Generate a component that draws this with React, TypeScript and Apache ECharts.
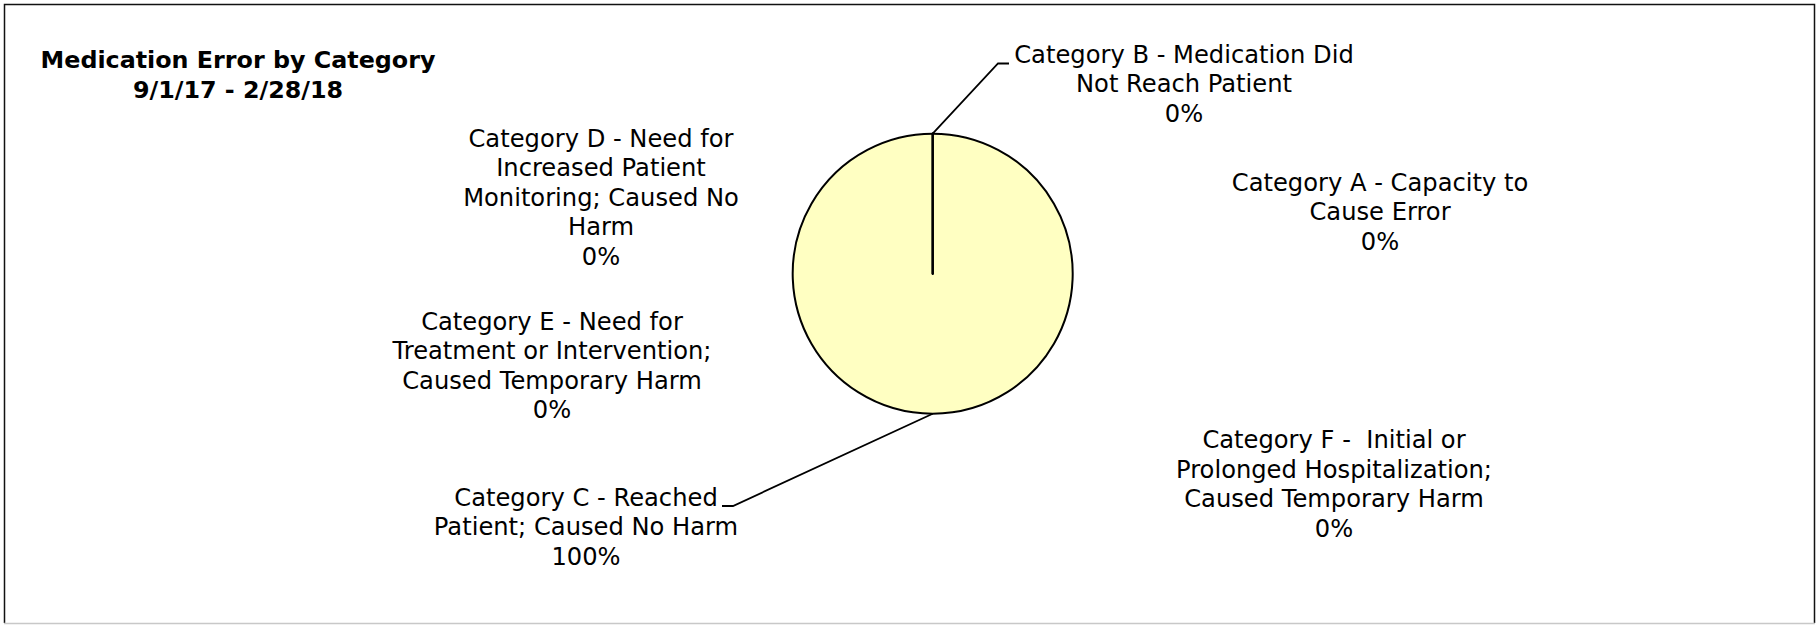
import React, { useEffect, useRef } from 'react';
import * as echarts from 'echarts';

// ---- data ----
const categories = [
  'Category A - Capacity to Cause Error',
  'Category B - Medication Did Not Reach Patient',
  'Category C - Reached Patient; Caused No Harm',
  'Category D - Need for Increased Patient Monitoring; Caused No Harm',
  'Category E - Need for Treatment or Intervention; Caused Temporary Harm',
  'Category F -  Initial or Prolonged Hospitalization; Caused Temporary Harm',
];
const labelTexts = [
  'Category A - Capacity to\nCause Error',
  'Category B - Medication Did\nNot Reach Patient',
  'Category C - Reached\nPatient; Caused No Harm',
  'Category D - Need for\nIncreased Patient\nMonitoring; Caused No\nHarm',
  'Category E - Need for\nTreatment or Intervention;\nCaused Temporary Harm',
  'Category F -  Initial or\nProlonged Hospitalization;\nCaused Temporary Harm',
];
const values = [0, 0, 100, 0, 0, 0];
const titleLines = ['Medication Error by Category', '9/1/17 - 2/28/18'];

// ---- layout ----
const W = 1818;
const H = 625;
const CX = 932.7;
const CY = 273.7;
const R = 140;
const FONT = '"DejaVu Sans", Verdana, sans-serif';
const labelPos: [number, number][] = [
  [1380, 212],
  [1184, 84],
  [586, 527],
  [601, 197.5],
  [552, 366],
  [1334, 484.5],
];

export default function App() {
  const ref = useRef<HTMLDivElement>(null);
  useEffect(() => {
    if (!ref.current) return;
    const chart = echarts.init(ref.current, undefined, { renderer: 'svg' });
    const option: any = {
      animation: false,
      backgroundColor: '#ffffff',
      graphic: [
        {
          type: 'polyline',
          silent: true,
          shape: { points: [[4.5, 623], [4.5, 4.5], [1814.5, 4.5], [1814.5, 623]] },
          style: { fill: 'none', stroke: '#111', lineWidth: 1.5 },
        },
        {
          type: 'line',
          silent: true,
          shape: { x1: 4, y1: 623.5, x2: 1815, y2: 623.5 },
          style: { stroke: '#c8c8c8', lineWidth: 1.5 },
        },
        {
          type: 'text',
          silent: true,
          x: 238,
          y: 74.5,
          style: {
            text: titleLines.join('\n'),
            font: `bold 23.8px ${FONT}`,
            fill: '#000',
            align: 'center',
            verticalAlign: 'middle',
            lineHeight: 30,
          },
        },
      ],
      series: [
        {
          type: 'pie',
          silent: true,
          center: [CX, CY],
          radius: R,
          startAngle: 90,
          clockwise: true,
          avoidLabelOverlap: false,
          emphasis: { disabled: true },
          itemStyle: { color: '#FFFFC2', borderColor: '#000', borderWidth: 2 },
          label: {
            show: true,
            color: '#000',
            fontFamily: FONT,
            fontSize: 24.2,
            lineHeight: 29.5,
            align: 'center',
            formatter: (p: any) => `${labelTexts[p.dataIndex]}\n${Math.round(p.percent)}%`,
          },
          labelLine: {
            show: true,
            lineStyle: { color: '#000', width: 1.8 },
          },
          labelLayout: (p: any) => {
            const i = p.dataIndex;
            const res: any = {
              x: labelPos[i][0],
              y: labelPos[i][1],
              align: 'center',
              verticalAlign: 'middle',
            };
            if (i === 1) {
              res.labelLinePoints = [[CX, CY - R], [998, 63.5], [1009, 63.5]];
            } else if (i === 2) {
              res.labelLinePoints = [[CX, CY + R], [733, 506], [722, 506]];
            }
            return res;
          },
          data: categories.map((name, i) => ({
            name,
            value: values[i],
            labelLine: { show: i === 1 || i === 2 },
          })),
        },
      ],
    };
    chart.setOption(option);
    return () => chart.dispose();
  }, []);
  return (
    <div
      ref={ref}
      style={{ position: 'absolute', left: 0, top: 0, width: W, height: H, background: '#fff' }}
    />
  );
}
